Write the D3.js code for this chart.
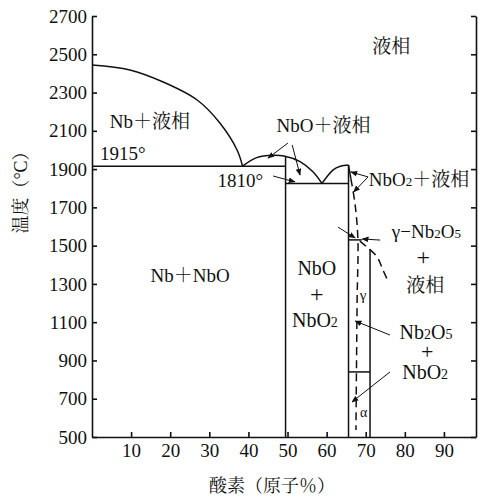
<!DOCTYPE html>
<html>
<head>
<meta charset="utf-8">
<script src="https://cdn.jsdelivr.net/npm/d3@7"></script>
<style>
  body { margin: 0; background: #fff; }
  svg { display: block; }
</style>
</head>
<body>
<svg id="chart"></svg>
<script>
// Nb-O phase diagram, oxygen at.% vs temperature

var tempTicks = [500, 700, 900, 1100, 1300, 1500, 1700, 1900, 2100, 2300, 2500, 2700];
var oxTicks = [10, 20, 30, 40, 50, 60, 70, 80, 90];

// liquidus curves [oxygen %, temperature]
var nbLiquidus = [[0, 2444], [9.7, 2418], [18.2, 2355], [26.9, 2261], [32.7, 2141], [37.1, 2000], [38.5, 1915]];
var nboDome = [[38.5, 1915], [42.1, 1960], [46.3, 1972], [49.1, 1968], [53.2, 1939], [56.5, 1886], [58.8, 1825]];
var nbo2Left = [[58.8, 1825], [61.6, 1895], [63.5, 1915], [65.6, 1921]];
var nbo2RightSolid = [[65.6, 1921], [66.2, 1850]];
var nbo2RightDash = [[66.2, 1850], [67.3, 1712], [68.0, 1530], [67.8, 1216], [67.5, 537]];
var gammaLiquidus = [[68.5, 1524], [70.3, 1493], [72.9, 1441], [74.4, 1373], [75.7, 1315]];

// straight phase boundaries [x1, t1, x2, t2]
var boundaries = [
  [0, 1915, 49.5, 1915],
  [49.5, 1968, 49.5, 500],
  [49.5, 1825, 65.6, 1825],
  [65.6, 1921, 65.6, 500],
  [65.6, 1530, 69.0, 1530],
  [71.1, 1482, 71.1, 500],
  [65.6, 840, 71.1, 840]
];

// pointer arrows [from x, from t, to x, to t]
var arrows = [
  [50.1, 2036, 45.0, 1957],
  [51.2, 2026, 53.2, 1869],
  [46.3, 1864, 51.9, 1833],
  [70.6, 1859, 66.2, 1885],
  [70.6, 1859, 66.9, 1780],
  [62.9, 1597, 67.3, 1540],
  [73.7, 1529, 69.1, 1535],
  [76.2, 1033, 67.3, 1106],
  [76.2, 840, 66.5, 683]
];

// region labels: text pieces ([text, isSub]), x, t, anchor, size
var labels = [
  [[['液相', 0]], 76.5, 2507, 'middle', 19],
  [[['Nb＋液相', 0]], 14.8, 2115, 'middle', 19],
  [[['1915°', 0]], 7.9, 1948, 'middle', 19],
  [[['NbO＋液相', 0]], 59.2, 2094, 'middle', 19],
  [[['1810°', 0]], 37.9, 1806, 'middle', 19],
  [[['NbO', 0], ['2', 1], ['＋液相', 0]], 70.8, 1812, 'start', 19],
  [[['γ−Nb', 0], ['2', 1], ['O', 0], ['5', 1]], 85.5, 1540, 'middle', 19],
  [[['+', 0]], 84.7, 1398, 'middle', 24],
  [[['液相', 0]], 85.2, 1258, 'middle', 19],
  [[['NbO', 0]], 57.5, 1347, 'middle', 20],
  [[['+', 0]], 57.5, 1207, 'middle', 24],
  [[['NbO', 0], ['2', 1]], 57.0, 1075, 'middle', 20],
  [[['Nb', 0], ['2', 1], ['O', 0], ['5', 1]], 85.4, 1010, 'middle', 20],
  [[['+', 0]], 85.7, 905, 'middle', 22],
  [[['NbO', 0], ['2', 1]], 85.2, 805, 'middle', 20],
  [[['Nb＋NbO', 0]], 25.1, 1310, 'middle', 19],
  [[['γ', 0]], 69.3, 1216, 'middle', 15],
  [[['α', 0]], 69.5, 605, 'middle', 14]
];

var latinFont = '"Liberation Serif"';
var cjkFont = '"Noto Serif CJK JP"';
var cjkRe = /([\u3000-\u9fff\uff00-\uffef]+)/;

// split a string into latin / cjk tspans so each gets its own face
var addRuns = (sel, str, size) => {
    str.split(cjkRe).filter((s) => s.length).forEach((s) => {
        sel.append('tspan')
           .style('font-family', cjkRe.test(s) ? cjkFont : latinFont)
           .style('font-size', size)
           .text(s);
    });
};

var width = 479;
var height = 497;

var svg = d3.select('#chart')
            .attr('width', width)
            .attr('height', height);

var xScale = d3.scaleLinear().domain([0, 98.2]).range([92, 476]);
var yScale = d3.scaleLinear().domain([500, 2700]).range([437, 16]);

var line = d3.line()
             .x((d) => xScale(d[0]))
             .y((d) => yScale(d[1]))
             .curve(d3.curveCatmullRom);

// arrowhead
svg.append('defs')
   .append('marker')
   .attr('id', 'head')
   .attr('viewBox', '0 0 10 10')
   .attr('refX', 9)
   .attr('refY', 5)
   .attr('markerWidth', 7)
   .attr('markerHeight', 7)
   .attr('markerUnits', 'userSpaceOnUse')
   .attr('orient', 'auto')
   .append('path')
   .attr('d', 'M0,1 L10,5 L0,9 Z')
   .attr('fill', '#111');

// axes
var yAxis = d3.axisLeft(yScale)
              .tickValues(tempTicks)
              .tickFormat(d3.format('d'))
              .tickSizeInner(-5)
              .tickSizeOuter(0)
              .tickPadding(5);

var yAxisRight = d3.axisRight(yScale)
                   .tickValues(tempTicks)
                   .tickSizeInner(-5)
                   .tickSizeOuter(0)
                   .tickFormat('');

var xAxis = d3.axisBottom(xScale)
              .tickValues(oxTicks)
              .tickFormat(d3.format('d'))
              .tickSizeInner(-5)
              .tickSizeOuter(0)
              .tickPadding(7);

svg.append('g')
   .attr('id', 'y-axis')
   .attr('transform', 'translate(92, 0)')
   .call(yAxis);

svg.append('g')
   .attr('id', 'y-axis-right')
   .attr('transform', 'translate(476, 0)')
   .call(yAxisRight);

svg.append('g')
   .attr('id', 'x-axis')
   .attr('transform', 'translate(0, 437)')
   .call(xAxis);

svg.selectAll('.domain, .tick line')
   .attr('stroke', '#111')
   .attr('stroke-width', 1.6);

svg.selectAll('.tick text')
   .style('font-family', latinFont)
   .style('font-size', '19px')
   .attr('fill', '#111');

// axis titles
var xTitle = svg.append('text')
                .attr('x', 272)
                .attr('y', 492)
                .attr('text-anchor', 'middle')
                .attr('fill', '#111');
addRuns(xTitle, '酸素（原子％）', '18px');

var yTitle = svg.append('text')
                .attr('transform', 'translate(27, 188) rotate(-90)')
                .attr('text-anchor', 'middle')
                .attr('fill', '#111');
addRuns(yTitle, '温度（°C）', '18px');

// phase boundaries
var plot = svg.append('g')
              .attr('fill', 'none')
              .attr('stroke', '#111')
              .attr('stroke-width', 1.5);

plot.selectAll('.bound')
    .data(boundaries)
    .enter()
    .append('line')
    .attr('class', 'bound')
    .attr('x1', (d) => xScale(d[0]))
    .attr('y1', (d) => yScale(d[1]))
    .attr('x2', (d) => xScale(d[2]))
    .attr('y2', (d) => yScale(d[3]));

[nbLiquidus, nboDome, nbo2Left, nbo2RightSolid].forEach((c) => {
    plot.append('path').attr('d', line(c));
});

[nbo2RightDash, gammaLiquidus].forEach((c) => {
    plot.append('path')
        .attr('d', line(c))
        .attr('stroke-dasharray', '8,5');
});

plot.selectAll('.arrow')
    .data(arrows)
    .enter()
    .append('line')
    .attr('class', 'arrow')
    .attr('stroke-width', 1)
    .attr('x1', (d) => xScale(d[0]))
    .attr('y1', (d) => yScale(d[1]))
    .attr('x2', (d) => xScale(d[2]))
    .attr('y2', (d) => yScale(d[3]))
    .attr('marker-end', 'url(#head)');

// labels
var lab = svg.selectAll('.label')
             .data(labels)
             .enter()
             .append('text')
             .attr('class', 'label')
             .attr('x', (d) => xScale(d[1]))
             .attr('y', (d) => yScale(d[2]))
             .attr('text-anchor', (d) => d[3])
             .attr('fill', '#111');

lab.each(function(d) {
    var t = d3.select(this);
    d[0].forEach((p) => {
        var size = p[1] ? Math.round(d[4] * 0.68) + 'px' : d[4] + 'px';
        addRuns(t, p[0], size);
    });
});
</script>
</body>
</html>
